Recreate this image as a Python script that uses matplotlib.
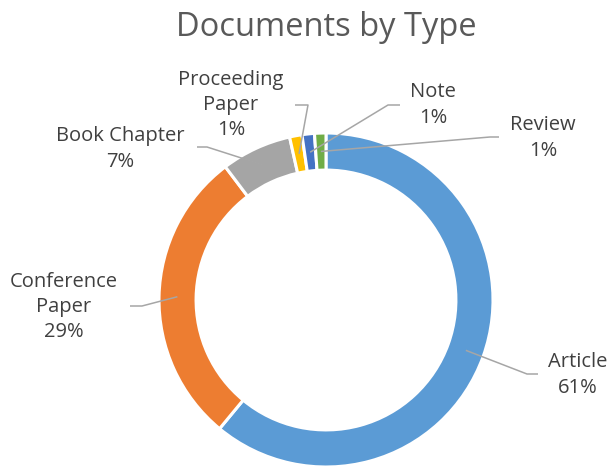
import numpy as np
import matplotlib.pyplot as plt

# data (share of documents, %)
types = ["Article", "Conference Paper", "Book Chapter", "Proceeding Paper", "Note", "Review"]
shares = [61.0, 28.7, 6.8, 1.2, 1.2, 1.1]
labels = ["Article\n61%", "Conference\nPaper\n29%", "Book Chapter\n7%",
          "Proceeding\nPaper\n1%", "Note\n1%", "Review\n1%"]
colors = ["#5B9BD5", "#ED7D31", "#A5A5A5", "#FFC000", "#4472C4", "#70AD47"]

W, H = 611, 468
CX, CY, R = 326, 300, 167          # ring centre / radius in pixels (y from top)

# label text centres and leader elbows, pixels from top-left
label_pos = [(578, 375), (64, 307), (120, 149), (231, 105), (433, 105), (543, 138)]
elbow_pos = [(527, 374), (142, 306), (207, 147), (308, 105), (388, 105), (490, 137)]
end_pos = [(538, 374), (130, 306), (197, 147), (295, 105), (400, 105), (499, 137)]


def px(x, y):
    return x, H - y


fig = plt.figure(figsize=(W / 100, H / 100), dpi=100)
ax = fig.add_axes([0, 0, 1, 1])

wedges, _ = ax.pie(shares, colors=colors, startangle=90, counterclock=False,
                   center=px(CX, CY), radius=R, frame=True,
                   wedgeprops=dict(width=R * 0.222, edgecolor="white", linewidth=2.2))
ax.set_xlim(0, W)
ax.set_ylim(0, H)
ax.set_aspect("equal")
ax.axis("off")

for w, lab, lp, ep, tp in zip(wedges, labels, label_pos, elbow_pos, end_pos):
    mid = np.deg2rad((w.theta1 + w.theta2) / 2)
    r0 = R * 0.89
    sx = CX + r0 * np.cos(mid)
    sy = CY - r0 * np.sin(mid)
    xs = [sx, ep[0], tp[0]]
    ys = [H - sy, H - ep[1], H - tp[1]]
    ax.plot(xs, ys, color="#A6A6A6", lw=1.1, solid_capstyle="butt")
    ax.text(*px(*lp), lab, ha="center", va="center", fontsize=14.5,
            family="Open Sans", color="#404040", linespacing=1.35)

ax.text(*px(326, 28), "Documents by Type", ha="center", va="center",
        fontsize=23.5, family="Open Sans", color="#595959")

fig.savefig("out.png", dpi=100)
